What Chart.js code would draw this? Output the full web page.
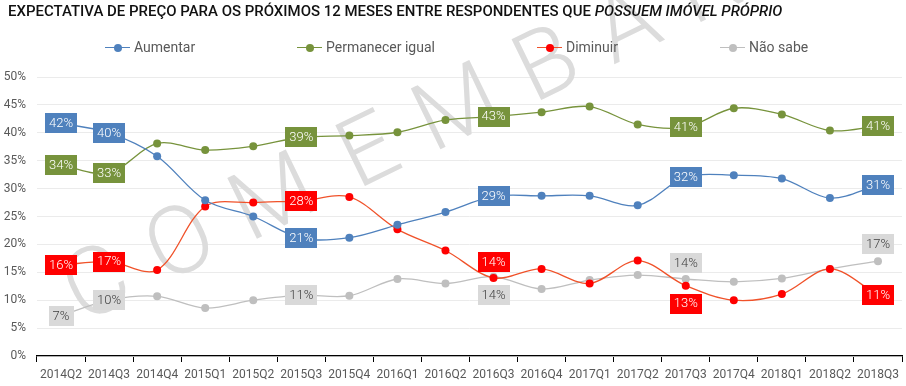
<!DOCTYPE html>
<html>
<head>
<meta charset="utf-8">
<script src="https://cdn.jsdelivr.net/npm/chart.js@4.4.1/dist/chart.umd.min.js"></script>
<style>
html,body{margin:0;padding:0;background:#fff;width:906px;height:386px;overflow:hidden;}
#wrap{position:relative;width:906px;height:386px;font-family:Roboto,"Noto Sans",sans-serif;}
canvas{position:absolute;left:0;top:0;}
#title{position:absolute;left:8px;top:2px;font-weight:500;font-size:15px;color:#111;white-space:nowrap;line-height:18px;}
#legend{position:absolute;left:0;top:37px;height:20px;width:906px;}
.li{position:absolute;top:0;height:20px;display:flex;align-items:center;font-size:14px;color:#595959;white-space:nowrap;}
.mk{position:relative;width:25px;height:20px;margin-right:4px;}
.mk .ln{position:absolute;left:0;right:0;top:9.5px;height:1.5px;}
.mk .dt{position:absolute;left:8.5px;top:6.5px;width:8px;height:8px;border-radius:50%;}
</style>
</head>
<body>
<div id="wrap">
<canvas id="c" width="906" height="386"></canvas>
<div id="title">EXPECTATIVA DE PREÇO PARA OS PRÓXIMOS 12 MESES ENTRE RESPONDENTES QUE <i>POSSUEM IMÓVEL PRÓPRIO</i></div>
<div id="legend"></div>
</div>
<script>
// ---- data ----
const CATEGORIES = ['2014Q2','2014Q3','2014Q4','2015Q1','2015Q2','2015Q3','2015Q4','2016Q1','2016Q2','2016Q3','2016Q4','2017Q1','2017Q2','2017Q3','2017Q4','2018Q1','2018Q2','2018Q3'];
const SERIES_NAMES = ['Aumentar','Permanecer igual','Diminuir','Não sabe'];
const AUMENTAR   = [41.7,40.0,35.8,27.9,25.0,21.1,21.2,23.5,25.8,28.6,28.7,28.7,27.0,32.1,32.4,31.8,28.3,30.6];
const PERMANECER = [34.2,32.8,38.1,36.9,37.6,39.2,39.5,40.1,42.3,42.9,43.7,44.7,41.5,41.0,44.4,43.3,40.4,41.2];
const DIMINUIR   = [16.3,16.9,15.4,26.8,27.5,27.8,28.5,22.7,18.9,14.0,15.6,13.0,17.1,12.6,10.0,11.1,15.6,10.9];
const NAO_SABE   = [7.2,10.0,10.7,8.6,10.0,10.9,10.8,13.8,13.0,14.2,12.0,13.6,14.5,13.8,13.3,13.9,15.6,17.0];
const Y_TICKS = [0,5,10,15,20,25,30,35,40,45,50];
const LABELED_INDEX = [0,1,5,9,13,17];
const WATERMARK = 'COM EMBARGO';

// ---- styles ----
const LINE_COLORS  = ['#4F81BD','#77933C','#F0522A','#BFBFBF'];
const POINT_COLORS = ['#4F81BD','#77933C','#FF0000','#BFBFBF'];
const LABEL_BG     = ['#4F81BD','#77933C','#FF0000','#D9D9D9'];
const LABEL_FG     = ['#FFFFFF','#FFFFFF','#FFFFFF','#404040'];
const LABEL_SHIFT  = {2:{9:-16,13:18}, 3:{9:18,13:-16,17:-17}};
const LEGEND_X = [105,297,537,720];

Chart.defaults.font.family = 'Roboto, "Noto Sans", sans-serif';
Chart.defaults.color = '#595959';

const seriesData = [AUMENTAR, PERMANECER, DIMINUIR, NAO_SABE];

const watermark = {
  id:'watermark',
  beforeDatasetsDraw(chart){
    const ctx = chart.ctx;
    ctx.save();
    ctx.translate(82,324);
    ctx.rotate(-26*Math.PI/180);
    ctx.font = '300 95px Roboto';
    ctx.fillStyle = '#DCDCDC';
    ctx.textBaseline = 'alphabetic';
    ctx.textAlign = 'left';
    let x = 0;
    for (const ch of WATERMARK) {
      if (ch === ' ') { x += 8; continue; }
      ctx.fillText(ch, x, 0);
      x += ctx.measureText(ch).width + 30;
    }
    ctx.restore();
  }
};

const boxLabels = {
  id:'boxLabels',
  afterDatasetsDraw(chart){
    const ctx = chart.ctx;
    ctx.save();
    ctx.font = '300 13px Roboto';
    ctx.textAlign = 'center';
    ctx.textBaseline = 'middle';
    chart.data.datasets.forEach((ds, di) => {
      const meta = chart.getDatasetMeta(di);
      LABELED_INDEX.forEach(i => {
        const pt = meta.data[i];
        const shift = (LABEL_SHIFT[di] && LABEL_SHIFT[di][i]) || 0;
        const text = Math.round(ds.data[i]) + '%';
        const w = ctx.measureText(text).width + 8;
        const h = 20;
        const x = pt.x, y = pt.y + shift;
        ctx.fillStyle = LABEL_BG[di];
        ctx.fillRect(Math.round(x - w/2), Math.round(y - h/2), Math.round(w), h);
        ctx.fillStyle = LABEL_FG[di];
        ctx.fillText(text, x, y + 0.5);
      });
    });
    ctx.restore();
  }
};

const chart = new Chart(document.getElementById('c'), {
  type:'line',
  data:{
    labels: CATEGORIES,
    datasets: SERIES_NAMES.map((name,i)=>({
      label:name,
      data:seriesData[i],
      borderColor:LINE_COLORS[i],
      backgroundColor:POINT_COLORS[i],
      pointBackgroundColor:POINT_COLORS[i],
      pointBorderColor:POINT_COLORS[i],
      pointRadius:4,
      pointBorderWidth:0,
      borderWidth:1.3,
      tension:0.33,
      fill:false
    }))
  },
  options:{
    responsive:false,
    devicePixelRatio:1,
    animation:false,
    layout:{padding:{top:77,right:3,left:0,bottom:0}},
    plugins:{legend:{display:false},tooltip:{enabled:false}},
    scales:{
      x:{
        offset:true,
        grid:{offset:true,drawOnChartArea:false,drawTicks:true,tickLength:6,color:'#000',lineWidth:1},
        border:{display:true,color:'#000',width:1.3},
        ticks:{autoSkip:false,maxRotation:0,padding:6,font:{size:12},color:'#595959'},
        afterFit(s){ s.height = 30; }
      },
      y:{
        min:0,max:50,
        afterBuildTicks(s){ s.ticks = Y_TICKS.map(v=>({value:v})); },
        grid:{drawTicks:false,color:'#EBEBEB',lineWidth:1},
        border:{display:false},
        ticks:{padding:11,font:{size:12},color:'#595959',callback:v=>v+'%'},
        afterFit(s){ s.width = 37; }
      }
    }
  },
  plugins:[watermark, boxLabels]
});

// legend (HTML)
const lg = document.getElementById('legend');
SERIES_NAMES.forEach((name,i)=>{
  const d = document.createElement('div');
  d.className='li';
  d.style.left = LEGEND_X[i]+'px';
  d.innerHTML = '<span class="mk"><span class="ln" style="background:'+LINE_COLORS[i]+'"></span><span class="dt" style="background:'+POINT_COLORS[i]+'"></span></span><span>'+name+'</span>';
  lg.appendChild(d);
});

// fit title width
const t = document.getElementById('title');
let fs = 15;
t.style.fontSize = fs+'px';
const target = 775;
fs = fs * target / t.getBoundingClientRect().width;
t.style.fontSize = fs+'px';
</script>
</body>
</html>
